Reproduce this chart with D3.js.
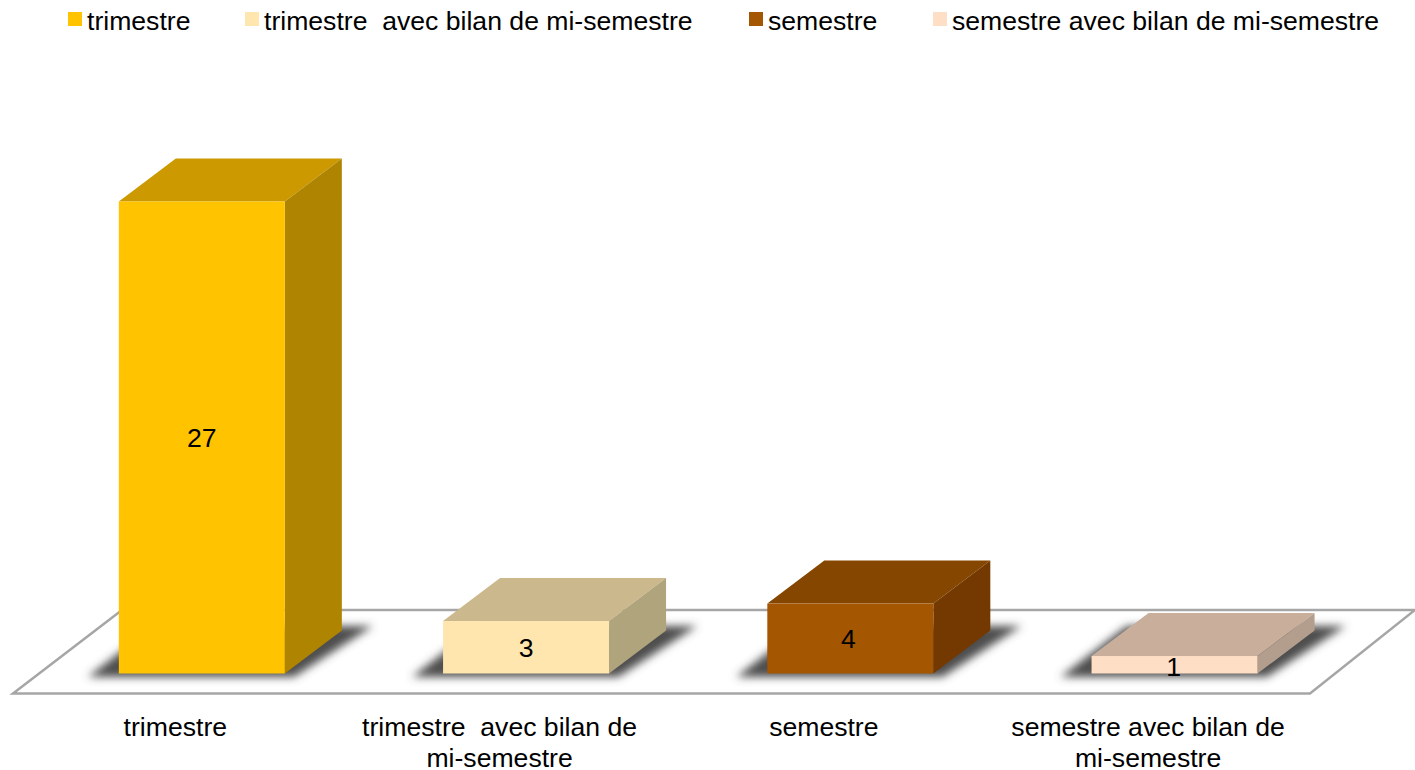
<!DOCTYPE html>
<html>
<head>
<meta charset="utf-8">
<script src="https://cdn.jsdelivr.net/npm/d3@7"></script>
<style>
    html, body { margin: 0; padding: 0; background: #fff; }
    svg { display: block; }
    text { font-family: "Liberation Sans", Arial, sans-serif; font-size: 26.6px; fill: #000; white-space: pre; }
</style>
</head>
<body>
<div id="chart"></div>
<script>
var categories = ["trimestre", "trimestre  avec bilan de mi-semestre", "semestre", "semestre avec bilan de mi-semestre"];
var values = [27, 3, 4, 1];
var frontColors = ["#ffc300", "#fee6ae", "#a55600", "#fedec4"];
var topColors = ["#cc9900", "#cbb88c", "#854600", "#c8ae9b"];
var sideColors = ["#af8400", "#b0a47c", "#743900", "#b39e8e"];

var width = 1415;
var height = 770;
// 3d offset of the bars and the floor
var depthX = 57;
var depthY = 43;

var svg = d3.select("#chart")
    .append("svg")
    .attr("width", width)
    .attr("height", height);

var defs = svg.append("defs");
defs.append("filter")
    .attr("id", "soft")
    .attr("x", "-20%").attr("y", "-40%")
    .attr("width", "140%").attr("height", "180%")
    .append("feGaussianBlur")
    .attr("stdDeviation", 4);

var x = d3.scaleBand()
    .domain(categories)
    .range([39.7, 1336.7])
    .paddingInner(0.488)
    .paddingOuter(0.244);

var y = d3.scaleLinear()
    .domain([0, 27])
    .range([673.5, 201.5]);

function poly(points) {
    return points.map(function (p) { return p.join(","); }).join(" ");
}

// floor
svg.append("polygon")
    .attr("points", poly([[13, 693.5], [1310, 693.5], [1415, 610], [122, 610]]))
    .attr("fill", "#fff")
    .attr("stroke", "#a6a6a6")
    .attr("stroke-width", 2.5);

// shadows
svg.selectAll(".shadow")
    .data(categories)
    .enter().append("polygon")
    .attr("class", "shadow")
    .attr("points", function (d) {
        var x0 = x(d);
        var x1 = x0 + x.bandwidth();
        return poly([[x0 - 31, 677], [x1 + 9, 677], [x1 + 88, 626], [x0 + 35, 626]]);
    })
    .attr("fill", "#4d4d4d")
    .attr("filter", "url(#soft)");

var bars = svg.selectAll(".bar")
    .data(categories)
    .enter().append("g")
    .attr("class", "bar");

bars.append("polygon")
    .attr("points", function (d, i) {
        var x0 = x(d);
        var x1 = x0 + x.bandwidth();
        var yt = y(values[i]);
        return poly([[x0, yt], [x1, yt], [x1 + depthX, yt - depthY], [x0 + depthX, yt - depthY]]);
    })
    .attr("fill", function (d, i) { return topColors[i]; });

bars.append("polygon")
    .attr("points", function (d, i) {
        var x1 = x(d) + x.bandwidth();
        var yt = y(values[i]);
        return poly([[x1, yt], [x1 + depthX, yt - depthY], [x1 + depthX, y(0) - depthY], [x1, y(0)]]);
    })
    .attr("fill", function (d, i) { return sideColors[i]; });

bars.append("rect")
    .attr("x", function (d) { return x(d); })
    .attr("y", function (d, i) { return y(values[i]); })
    .attr("width", x.bandwidth())
    .attr("height", function (d, i) { return y(0) - y(values[i]); })
    .attr("fill", function (d, i) { return frontColors[i]; });

// value labels, hand nudged like in the original
var labelNudgeX = [0, 0, -2, -1];
var labelNudgeY = [-1, 0, -1, 1];
svg.selectAll(".value")
    .data(values)
    .enter().append("text")
    .attr("class", "value")
    .attr("text-anchor", "middle")
    .attr("x", function (d, i) { return x(categories[i]) + x.bandwidth() / 2 + labelNudgeX[i]; })
    .attr("y", function (d, i) { return (y(d) + y(0)) / 2 + 10 + labelNudgeY[i]; })
    .text(function (d) { return d; });

// category axis sits a bit left of the bars' front plane
var axis = svg.append("g")
    .attr("transform", "translate(-26.5,709)")
    .call(d3.axisBottom(x).tickSize(0).tickPadding(8));
axis.select(".domain").remove();
axis.selectAll("text")
    .style("font-size", "26.6px")
    .style("font-family", '"Liberation Sans", Arial, sans-serif')
    .attr("fill", "#000")
    .call(wrap, 290);

function wrap(selection, maxWidth) {
    selection.each(function (d) {
        var label = d3.select(this);
        var words = d.split(" ");
        var line = "";
        var lines = [];
        label.text(null);
        var probe = label.append("tspan");
        words.forEach(function (w) {
            var next = line === "" ? w : line + " " + w;
            probe.text(next);
            if (probe.node().getComputedTextLength() > maxWidth) {
                lines.push(line);
                line = w;
            } else {
                line = next;
            }
        });
        lines.push(line);
        probe.remove();
        lines.forEach(function (l, i) {
            label.append("tspan")
                .attr("x", 0)
                .attr("dy", i === 0 ? "0.71em" : 31.5)
                .text(l);
        });
    });
}

// legend
var legendX = [68, 245, 749, 933];
var legend = svg.selectAll(".legend")
    .data(categories)
    .enter().append("g")
    .attr("class", "legend")
    .attr("transform", function (d, i) { return "translate(" + legendX[i] + ",12)"; });

legend.append("rect")
    .attr("width", 14)
    .attr("height", 14)
    .attr("fill", function (d, i) { return frontColors[i]; });

legend.append("text")
    .attr("x", 19)
    .attr("y", 18)
    .text(function (d) { return d; });
</script>
</body>
</html>
